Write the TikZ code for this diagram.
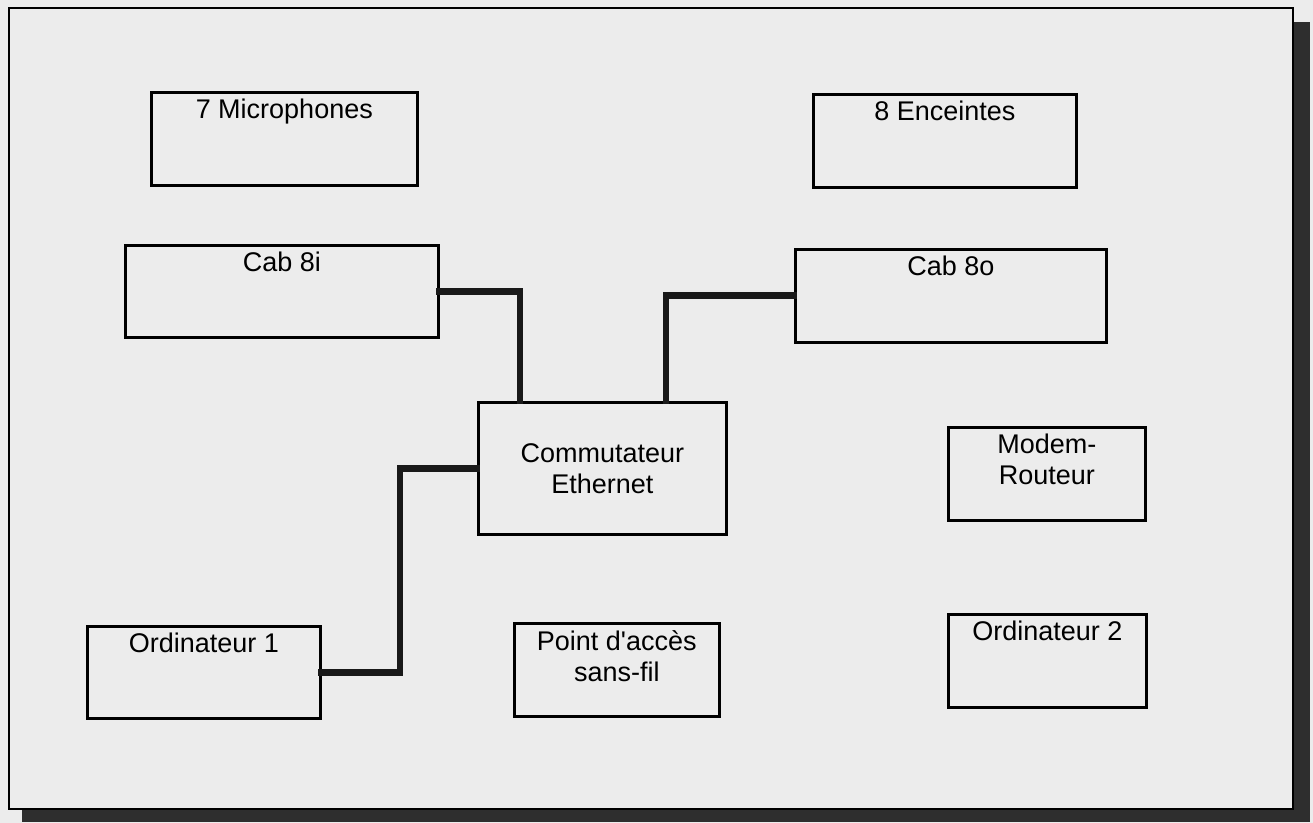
\documentclass[tikz,border=0pt]{standalone}
\usepackage{fontspec}
\setmainfont{Liberation Sans}
\usetikzlibrary{calc}
\definecolor{paper}{HTML}{ECECEC}
\definecolor{shadowgray}{HTML}{2E2E2E}
\tikzset{
  box/.style={draw=black, line width=1.3pt, fill=paper, anchor=north west, inner sep=0pt},
  lbl/.style={anchor=north, inner sep=0pt, yshift=-4pt, align=center, font=\fontsize{13.5}{15.5}\selectfont},
  wire/.style={draw=black!90, line width=3.4pt, line cap=rect},
  frame/.style={draw=black, line width=1pt, fill=paper}
}
\begin{document}
\begin{tikzpicture}[x=0.5pt, y=-0.5pt]
\fill[paper] (0,0) rectangle (1313,823);
\fill[shadowgray] (22,22) rectangle (1310,822);
\path[frame] (9,8) rectangle (1293,809);
\useasboundingbox (0,0) rectangle (1313,823);

\node[box, minimum width=133pt, minimum height=46.5pt,
  label={[lbl, yshift=0pt]north:7 Microphones}] (mic) at (150,91) {};
\node[box, minimum width=131.5pt, minimum height=46.5pt,
  label={[lbl]north:8 Enceintes}] (enc) at (812,93) {};
\node[box, minimum width=156.5pt, minimum height=46pt,
  label={[lbl]north:Cab 8i}] (cabi) at (124,244) {};
\node[box, minimum width=155.5pt, minimum height=46.5pt,
  label={[lbl]north:Cab 8o}] (cabo) at (794,248) {};
\node[box, minimum width=124pt, minimum height=66pt,
  font=\fontsize{13.5}{15.5}\selectfont, align=center] (comm) at (477,401) {Commutateur\\Ethernet};
\node[box, minimum width=98.5pt, minimum height=46.5pt,
  label={[lbl]north:Modem-\\Routeur}] (modem) at (947,426) {};
\node[box, minimum width=116.5pt, minimum height=46pt,
  label={[lbl]north:Ordinateur 1}] (ord1) at (86,625) {};
\node[box, minimum width=102.5pt, minimum height=46.5pt,
  label={[lbl]north:Point d\textquotesingle accès\\sans-fil}] (pa) at (513,622) {};
\node[box, minimum width=99pt, minimum height=46.5pt,
  label={[lbl]north:Ordinateur 2}] (ord2) at (947,613) {};

\draw[wire] (cabi.east) -| ($(comm.north west)+(43,0)$);
\draw[wire] (cabo.west) -| ($(comm.north west)+(189,0)$);
\draw[wire] (comm.west) -- ++(-77,0) |- (ord1.east);
\end{tikzpicture}
\end{document}
